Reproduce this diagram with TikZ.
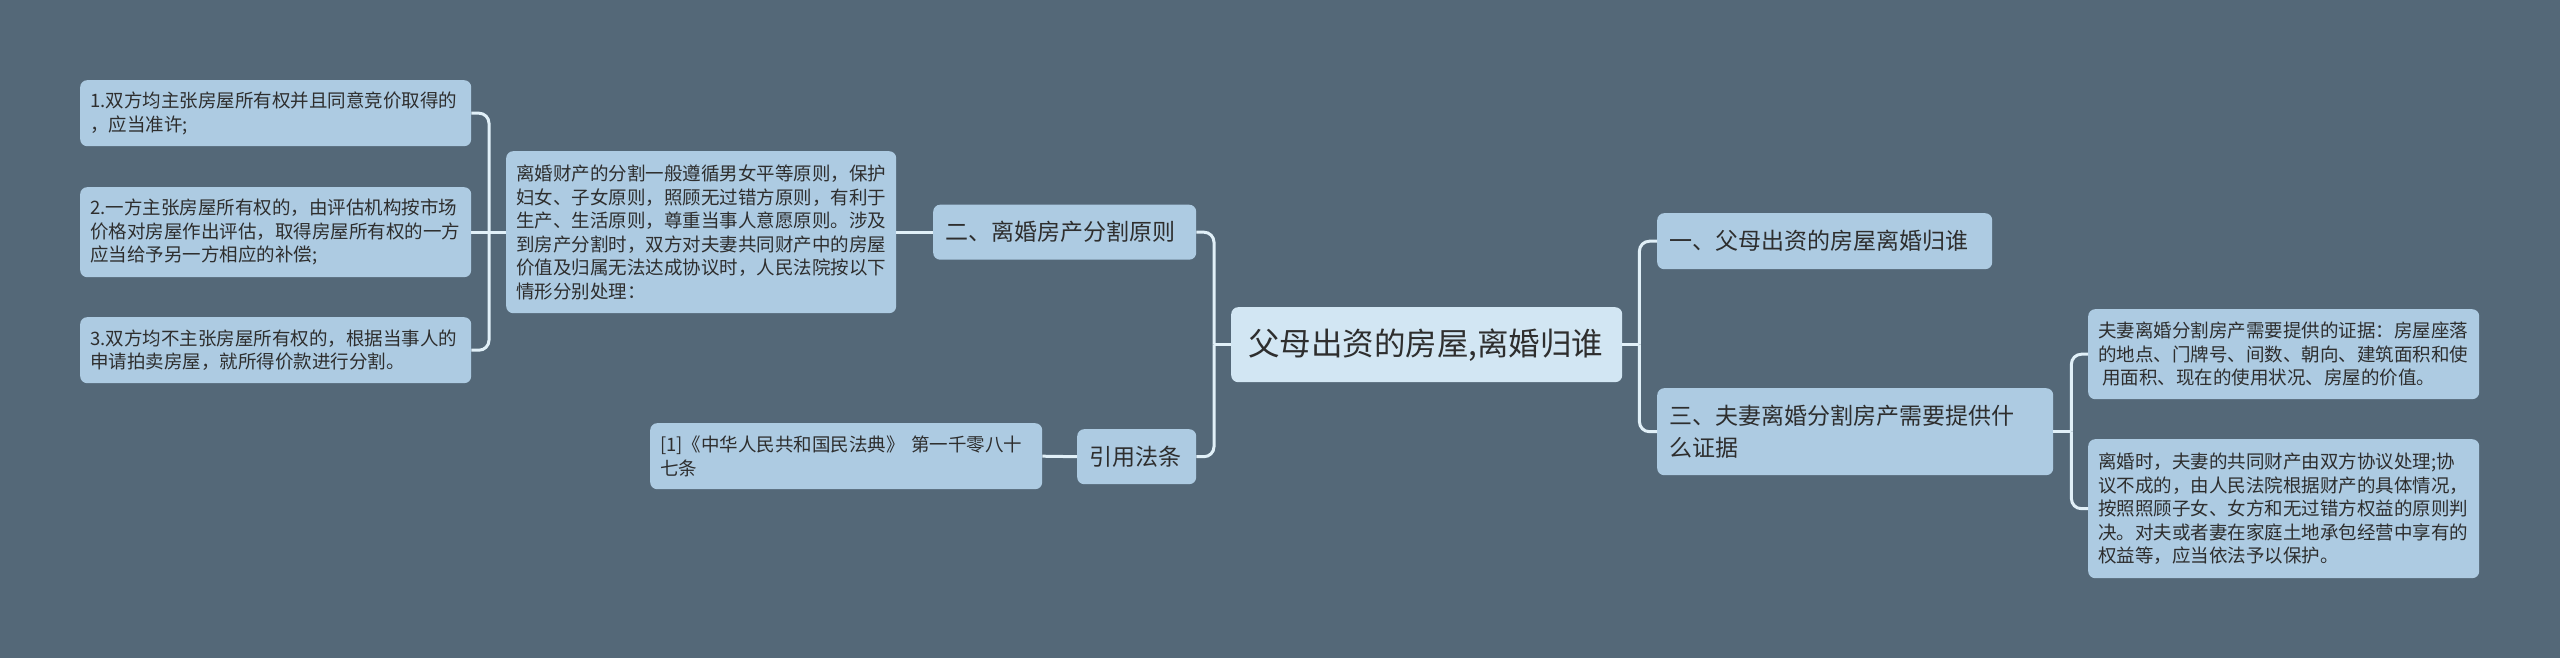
\documentclass[tikz,border=0pt]{standalone}
\usepackage{fontspec}
\setmainfont{Noto Sans CJK SC}
\usepackage{tikz}
\usetikzlibrary{positioning}
\definecolor{bgc}{HTML}{546878}
\definecolor{boxc}{HTML}{ADCBE2}
\definecolor{rootc}{HTML}{D2E6F3}
\definecolor{linkc}{HTML}{E1F0F8}
\definecolor{txtc}{HTML}{2E2E2E}

\begin{document}
\begin{tikzpicture}[x=1pt, y=-1pt,
  box/.style={fill=boxc, text=txtc, rounded corners=7pt, anchor=north west,
    inner xsep=10pt, inner ysep=0pt, align=left},
  leaf/.style={box, font=\fontsize{18.5}{23.5}\selectfont},
  branch/.style={box, inner xsep=12pt, font=\fontsize{23}{31.5}\selectfont},
  link/.style={draw=linkc, line width=3pt, rounded corners=10pt}]

  % Background
  \fill[bgc] (0,0) rectangle (2560,658);
  \useasboundingbox (0,0) rectangle (2560,658);

  % Root
  \node[box, fill=rootc, inner xsep=17pt, text width=357pt, minimum height=75pt,
    font=\fontsize{31.5}{36}\selectfont] (root) at (1231,307) {父母出资的房屋,离婚归谁};

  % Left branches
  \node[branch, text width=239pt, minimum height=55pt] (b2) at (933,204.5) {二、离婚房产分割原则};
  \node[branch, text width=95pt, minimum height=55pt] (law) at (1077,429) {引用法条};

  \node[leaf, text width=370pt, minimum height=162pt] (rule) at (506,151)
    {离婚财产的分割一般遵循男女平等原则，保护\\妇女、子女原则，照顾无过错方原则，有利于\\生产、生活原则，尊重当事人意愿原则。涉及\\到房产分割时，双方对夫妻共同财产中的房屋\\价值及归属无法达成协议时，人民法院按以下\\情形分别处理：};
  \node[leaf, text width=372pt, minimum height=66pt] (cite) at (650,423)
    {[1]《中华人民共和国民法典》 第一千零八十\\七条};

  \node[leaf, text width=371pt, minimum height=66pt] (la) at (80,80)
    {1.双方均主张房屋所有权并且同意竞价取得的\\，应当准许;};
  \node[leaf, text width=371pt, minimum height=90pt] (lb) at (80,187)
    {2.一方主张房屋所有权的，由评估机构按市场\\价格对房屋作出评估，取得房屋所有权的一方\\应当给予另一方相应的补偿;};
  \node[leaf, text width=371pt, minimum height=66pt] (lc) at (80,317)
    {3.双方均不主张房屋所有权的，根据当事人的\\申请拍卖房屋，就所得价款进行分割。};

  % Right branches
  \node[branch, text width=311pt, minimum height=56pt] (b1) at (1657,213) {一、父母出资的房屋离婚归谁};
  \node[branch, text width=372pt, minimum height=87pt] (b3) at (1657,388)
    {三、夫妻离婚分割房产需要提供什\\么证据};

  \node[leaf, text width=371pt, minimum height=90pt] (ra) at (2088,309)
    {夫妻离婚分割房产需要提供的证据：房屋座落\\的地点、门牌号、间数、朝向、建筑面积和使\\\hspace{4pt}用面积、现在的使用状况、房屋的价值。};
  \node[leaf, text width=371pt, minimum height=139pt] (rb) at (2088,439)
    {离婚时，夫妻的共同财产由双方协议处理;协\\议不成的，由人民法院根据财产的具体情况，\\按照照顾子女、女方和无过错方权益的原则判\\决。对夫或者妻在家庭土地承包经营中享有的\\权益等，应当依法予以保护。};

  % Junctions
  \path (root.west) ++(-17,0) coordinate (jl);
  \path (root.east) ++(17,0) coordinate (jr);
  \path (rule.west) ++(-17,0) coordinate (jm);
  \path (b3.east) ++(18,0) coordinate (jb);

  % Connectors
  \foreach \n in {b2,law} \draw[link] (\n.east) -| (jl);
  \draw[link] (jl) -- (root.west);
  \foreach \n in {b1,b3} \draw[link] (\n.west) -| (jr);
  \draw[link] (jr) -- (root.east);
  \foreach \n in {la,lc} \draw[link] (\n.east) -| (jm);
  \draw[link] (lb.east) -- (rule.west);
  \foreach \n in {ra,rb} \draw[link] (\n.west) -| (jb);
  \draw[link] (jb) -- (b3.east);
  \draw[link] (rule.east) -- (b2.west);
  \draw[link] (cite.east) -- (law.west);

\end{tikzpicture}
\end{document}
